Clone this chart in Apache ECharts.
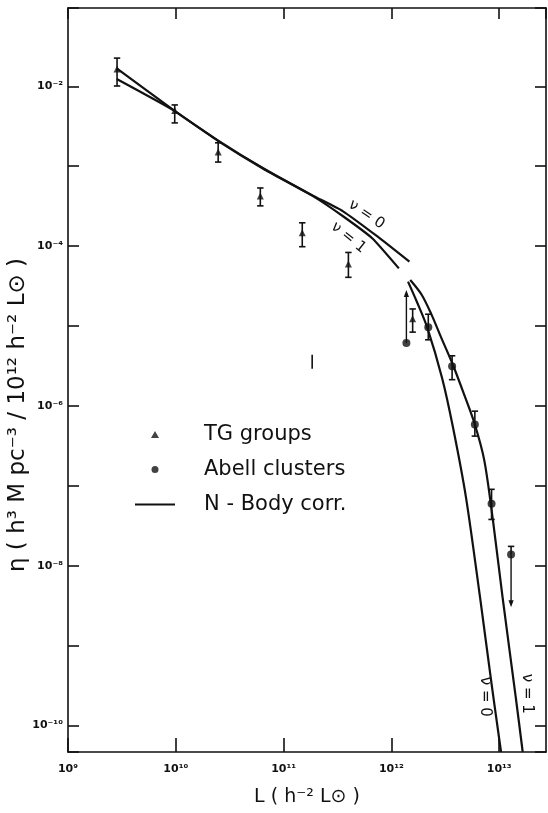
<!DOCTYPE html>
<html><head><meta charset="utf-8">
<script src="https://cdn.jsdelivr.net/npm/echarts@6/dist/echarts.min.js"></script>
<style>html,body{margin:0;padding:0;background:#fff}#c{width:548px;height:813px}</style>
</head><body><div id="c"></div><script>
// All values are log10 quantities (x: log L, y: log eta)
const xTicks = [9, 10, 11, 12, 13];
const yTicks = [-2, -4, -6, -8, -10];

// TG groups (triangles) with error bars
const tgLogL   = [9.455, 9.990, 10.393, 10.784, 11.173, 11.601, 12.197];
const tgLogEta = [-1.784, -2.304, -2.823, -3.372, -3.833, -4.224, -4.910];
const tgErrLo  = [-1.996, -2.458, -2.948, -3.496, -4.007, -4.390, -5.076];
const tgErrHi  = [-1.647, -2.233, -2.707, -3.272, -3.708, -4.079, -4.786];

// Abell clusters (filled circles)
const abLogL   = [12.139, 12.342, 12.563, 12.774, 12.929, 13.110];
const abLogEta = [-5.213, -5.014, -5.504, -6.232, -7.222, -7.860];
const abErrLo  = [null, -5.172, -5.671, -6.377, -7.420, null];
const abErrHi  = [null, -4.852, -5.372, -6.065, -7.043, -7.757];
const abLimit  = [-4.549, null, null, null, null, -8.518]; // arrow tips (limits)

// isolated bar without point
const strayLogL = [11.265];
const strayLo   = [-5.535];
const strayHi   = [-5.360];

// N-body curves, nu = 0 and nu = 1 (upper and lower branches)
const nu0UpperL   = [9.452, 9.964, 10.390, 10.811, 11.272, 11.548, 11.870, 12.167];
const nu0UpperEta = [-1.776, -2.283, -2.676, -3.025, -3.368, -3.561, -3.879, -4.195];
const nu1UpperL   = [9.452, 9.964, 10.390, 10.811, 11.272, 11.548, 11.824, 12.069];
const nu1UpperEta = [-1.909, -2.289, -2.682, -3.031, -3.374, -3.623, -3.904, -4.278];
const nu0LowerL   = [12.154, 12.235, 12.331, 12.470, 12.572, 12.692, 12.822, 12.929, 13.017];
const nu0LowerEta = [-4.444, -4.693, -5.014, -5.650, -6.273, -7.146, -8.393, -9.478, -10.33];
const nu1LowerL   = [12.175, 12.282, 12.373, 12.464, 12.570, 12.675, 12.774, 12.862, 12.942, 13.031, 13.153, 13.218];
const nu1LowerEta = [-4.424, -4.611, -4.860, -5.151, -5.484, -5.858, -6.232, -6.684, -7.432, -8.393, -9.640, -10.33];

// curve annotations
const curveLabelText = ['ν = 0', 'ν = 1', 'ν = 0', 'ν = 1'];
const curveLabelL    = [11.770, 11.602, 12.867, 13.259];
const curveLabelEta  = [-3.605, -3.892, -9.640, -9.602];
const curveLabelRot  = [-34, -39, -90, -90];

const legendNames = ['TG groups', 'Abell clusters', 'N - Body corr.'];

const SUP = {'-':'⁻','0':'⁰','1':'¹','2':'²','3':'³','4':'⁴','5':'⁵','6':'⁶','7':'⁷','8':'⁸','9':'⁹'};
function pow10(v) {
  const r = Math.round(v);
  if (Math.abs(v - r) > 1e-6) return '';
  return '10' + String(r).split('').map(c => SUP[c]).join('');
}
const zip = (a, b) => a.map((v, i) => [v, b[i]]);

const chart = echarts.init(document.getElementById('c'), null, {renderer: 'canvas'});
const ink = '#111';
const FONT = 'DejaVu Sans';

const errRows = [];
tgLogL.forEach((x, i) => errRows.push([x, tgErrLo[i], tgErrHi[i], 1, 1]));
abLogL.forEach((x, i) => {
  if (abErrLo[i] != null && abErrHi[i] != null) errRows.push([x, abErrLo[i], abErrHi[i], 1, 1]);
  else if (abErrHi[i] != null) errRows.push([x, abLogEta[i], abErrHi[i], 0, 1]);
});
strayLogL.forEach((x, i) => errRows.push([x, strayLo[i], strayHi[i], 0, 0]));

const arrowRows = [];
abLogL.forEach((x, i) => { if (abLimit[i] != null) arrowRows.push([x, abLogEta[i], abLimit[i]]); });

const labelRows = curveLabelText.map((t, i) => [curveLabelL[i], curveLabelEta[i], i]);

const curveSeries = [[nu0UpperL, nu0UpperEta, 0.15], [nu1UpperL, nu1UpperEta, 0.15], [nu0LowerL, nu0LowerEta, 0.3], [nu1LowerL, nu1LowerEta, 0.3]]
  .map(([xs, ys, sm]) => ({
    name: 'N - Body corr.', type: 'line', data: zip(xs, ys), smooth: sm,
    showSymbol: false, symbol: 'none', lineStyle: {color: ink, width: 2.2}, itemStyle: {color: ink},
    z: 2, silent: true
  }));

const xBase = {
  type: 'value', min: 9, max: 13.434, splitNumber: 5,
  splitLine: {show: false},
  axisLine: {show: true, onZero: false, lineStyle: {color: ink, width: 1.6}},
  axisTick: {show: true, inside: true, lineStyle: {color: ink, width: 1.6}}
};
const yBase = {
  type: 'value', min: -10.33, max: -1.02, splitNumber: 9,
  splitLine: {show: false},
  axisLine: {show: true, onZero: false, lineStyle: {color: ink, width: 1.6}},
  axisTick: {show: true, inside: true, length: 11, lineStyle: {color: ink, width: 1.6}}
};

const legendText = {color: ink, fontFamily: FONT, fontSize: 21, lineHeight: 20};

chart.setOption({
  animation: false,
  backgroundColor: '#fff',
  grid: {left: 68, right: 2, top: 8, bottom: 61, containLabel: false, outerBoundsMode: 'none'},
  xAxis: [
    Object.assign({}, xBase, {
      position: 'bottom',
      axisTick: Object.assign({}, xBase.axisTick, {length: 14}),
      axisLabel: {show: true, margin: 12, color: ink, fontFamily: FONT, fontSize: 11, fontWeight: 'bold',
        formatter: v => pow10(v), showMinLabel: true, showMaxLabel: false},
      name: 'L ( h⁻² L⊙ )', nameLocation: 'middle', nameGap: 36, nameMoveOverlap: false,
      nameTextStyle: {color: ink, fontFamily: FONT, fontSize: 19}
    }),
    Object.assign({}, xBase, {
      position: 'top',
      axisTick: Object.assign({}, xBase.axisTick, {length: 11}),
      axisLabel: {show: false}
    })
  ],
  yAxis: [
    Object.assign({}, yBase, {
      position: 'left',
      axisLabel: {show: true, margin: 5, color: ink, fontFamily: FONT, fontSize: 11, fontWeight: 'bold',
        formatter: v => { const r = Math.round(v); return (Math.abs(v - r) < 1e-6 && r % 2 === 0) ? pow10(v) : ''; }},
      name: 'η ( h³ M pc⁻³ / 10¹² h⁻² L⊙ )', nameLocation: 'middle', nameGap: 38, nameRotate: 90, nameMoveOverlap: false,
      nameTextStyle: {color: ink, fontFamily: FONT, fontSize: 23, padding: [0, 70, 0, 0]}
    }),
    Object.assign({}, yBase, {
      position: 'right',
      axisLabel: {show: false}
    })
  ],
  legend: [
    {
      data: [{name: legendNames[0], icon: 'triangle'}, {name: legendNames[1], icon: 'circle'}],
      orient: 'vertical', left: 146, top: 419,
      itemWidth: 8, itemHeight: 7, itemGap: 14, selectedMode: false,
      itemStyle: {color: ink},
      textStyle: Object.assign({}, legendText, {padding: [0, 0, 0, 40]})
    },
    {
      data: [{name: legendNames[2], icon: 'path://M0,0H40V2.2H0Z'}],
      orient: 'vertical', left: 130, top: 489,
      itemWidth: 40, itemHeight: 7, selectedMode: false,
      itemStyle: {color: ink},
      textStyle: Object.assign({}, legendText, {padding: [0, 0, 0, 24]})
    }
  ],
  series: [
    ...curveSeries,
    {
      name: 'errbars', type: 'custom', data: errRows, encode: {x: 0, y: [1, 2]}, z: 3, silent: true,
      renderItem: (params, api) => {
        const x = api.value(0);
        const p1 = api.coord([x, api.value(1)]);
        const p2 = api.coord([x, api.value(2)]);
        const w = 3.2;
        const kids = [{type: 'line', shape: {x1: p1[0], y1: p1[1], x2: p2[0], y2: p2[1]}, style: {stroke: ink, lineWidth: 1.6}}];
        if (api.value(3)) kids.push({type: 'line', shape: {x1: p1[0] - w, y1: p1[1], x2: p1[0] + w, y2: p1[1]}, style: {stroke: ink, lineWidth: 1.6}});
        if (api.value(4)) kids.push({type: 'line', shape: {x1: p2[0] - w, y1: p2[1], x2: p2[0] + w, y2: p2[1]}, style: {stroke: ink, lineWidth: 1.6}});
        return {type: 'group', children: kids};
      }
    },
    {
      name: 'limits', type: 'custom', data: arrowRows, encode: {x: 0, y: [1, 2]}, z: 3, silent: true,
      renderItem: (params, api) => {
        const x = api.value(0);
        const p1 = api.coord([x, api.value(1)]);
        const p2 = api.coord([x, api.value(2)]);
        const dir = p2[1] < p1[1] ? -1 : 1;
        const hl = 7, hw = 2.6;
        return {type: 'group', children: [
          {type: 'line', shape: {x1: p1[0], y1: p1[1], x2: p2[0], y2: p2[1] - dir * 3}, style: {stroke: ink, lineWidth: 1.4}},
          {type: 'polygon', shape: {points: [[p2[0], p2[1]], [p2[0] - hw, p2[1] - dir * hl], [p2[0] + hw, p2[1] - dir * hl]]}, style: {fill: ink}}
        ]};
      }
    },
    {
      name: 'TG groups', type: 'scatter', data: zip(tgLogL, tgLogEta), symbol: 'triangle', symbolSize: 7,
      itemStyle: {color: ink}, z: 4, silent: true
    },
    {
      name: 'Abell clusters', type: 'scatter', data: zip(abLogL, abLogEta), symbol: 'circle', symbolSize: 8,
      itemStyle: {color: ink}, z: 4, silent: true
    },
    {
      name: 'curveLabels', type: 'custom', data: labelRows, encode: {x: 0, y: 1}, z: 5, silent: true, clip: false,
      renderItem: (params, api) => {
        const p = api.coord([api.value(0), api.value(1)]);
        const i = api.value(2);
        return {type: 'text', x: p[0], y: p[1], rotation: curveLabelRot[i] * Math.PI / 180,
          style: {text: curveLabelText[i], fill: ink, font: '15px "DejaVu Sans"', align: 'center', verticalAlign: 'middle'}};
      }
    }
  ]
});
</script></body></html>
